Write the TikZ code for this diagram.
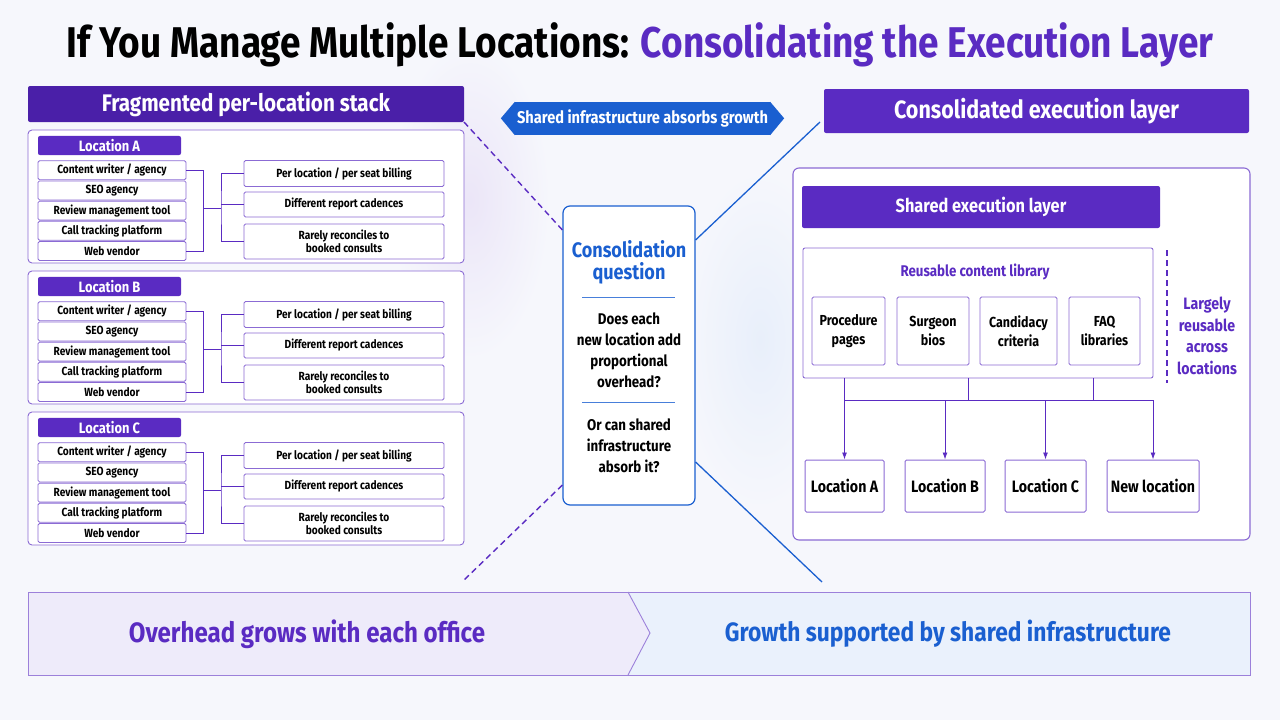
\documentclass[tikz,border=0pt]{standalone}
\usepackage{fontspec}
\setmainfont{Fira Sans}[FakeStretch=0.86]
\usetikzlibrary{arrows.meta}
\definecolor{pur}{HTML}{5A2BC2}
\definecolor{dpur}{HTML}{4A1FA8}
\definecolor{blu}{HTML}{1A5FD0}
\definecolor{bg}{HTML}{F6F7FC}
\definecolor{lav}{HTML}{EEEBFA}
\definecolor{lblu}{HTML}{EAF1FC}
\begin{document}
\begin{tikzpicture}[x=1pt,y=-1pt,
  hdr/.style={draw=none,fill=pur,rounded corners=2pt,text=white,font=\bfseries},
  item/.style={draw=pur!70,fill=white,rounded corners=1.5pt,line width=0.8pt},
  itxt/.style={font=\fontsize{11.8}{13}\selectfont\bfseries,align=center,text=black},
  grp/.style={draw=pur!70,fill=white,rounded corners=4pt,line width=0.9pt},
  con/.style={draw=pur,line width=0.8pt},
  dsh/.style={draw=pur,line width=1.4pt,dash pattern=on 6pt off 4pt},
  arr/.style={draw=pur,line width=0.9pt,-{Latex[length=7pt,width=5pt]}}]
\useasboundingbox (0,0) rectangle (1280,720);
\fill[bg] (0,0) rectangle (1280,720);
\shade[inner color=pur!12,outer color=bg] (470,200) ellipse (80 and 160);
\shade[inner color=blu!10,outer color=bg] (760,340) ellipse (80 and 170);
\node[font=\fontsize{43}{48}\selectfont\bfseries] (title) at (640,45) {If You Manage Multiple Locations: \textcolor{pur}{Consolidating the Execution Layer}};
% left header
\node[hdr,fill=dpur,minimum width=436pt,minimum height=36pt,font=\fontsize{24}{26}\selectfont\bfseries] (lh) at (246,104) {Fragmented per-location stack};
\foreach \L/\dy in {A/0,B/141,C/282}{
 \begin{scope}[yshift=-\dy pt]
 \node[grp,minimum width=436pt,minimum height=133pt] (g\L) at (246,196.5) {};
 \node[hdr,minimum width=143pt,minimum height=19pt,font=\fontsize{15}{16}\selectfont\bfseries] (l\L) at (109.5,145.5) {Location \L};
 \foreach \t [count=\i] in {Content writer / agency,SEO agency,Review management tool,Call tracking platform,Web vendor}{
   \node[item,minimum width=148pt,minimum height=19pt,itxt] (i\L\i) at (112,150+\i*20.2) {\t};}
 \node[item,minimum width=200pt,minimum height=26pt,itxt] (r\L1) at (344,173.5) {Per location / per seat billing};
 \node[item,minimum width=200pt,minimum height=25pt,itxt] (r\L2) at (344,204.5) {Different report cadences};
 \node[item,minimum width=200pt,minimum height=35pt,itxt] (r\L3) at (344,241.5) {Rarely reconciles to\\booked consults};
 \draw[con] (i\L1.east) -- ++(17,0) |- (i\L5.east);
 \draw[con] (203,208) -- (221,208);
 \draw[con] (r\L1.west) -| (221,208) |- (r\L3.west);
 \draw[con] (221,204.5) -- (r\L2.west);
 \end{scope}}
% banner
\node[fill=blu,text=white,font=\fontsize{17}{20}\selectfont\bfseries,inner xsep=2pt,minimum height=33pt] (ban) at (642.5,118.5) {Shared infrastructure absorbs growth};
\fill[blu] (ban.north west) -- ++(-14,16.5) -- (ban.south west) -- cycle;
\fill[blu] (ban.north east) -- ++(14,16.5) -- (ban.south east) -- cycle;
% right header
\node[hdr,minimum width=425pt,minimum height=44pt,font=\fontsize{25}{28}\selectfont\bfseries] (rh) at (1036.5,111) {Consolidated execution layer};
% center box
\node[draw=blu,line width=1.2pt,fill=white,rounded corners=7pt,minimum width=132pt,minimum height=299pt] (cq) at (629,355.5) {};
\node[text=blu,font=\fontsize{21}{22}\selectfont\bfseries,align=center] (cqt) at (629,262) {Consolidation\\question};
\draw[blu!80,line width=0.8pt] (582,297) -- (675,297);
\node[font=\fontsize{15.5}{21}\selectfont\bfseries,align=center] (q1) at (629,350) {Does each\\new location add\\proportional\\overhead?};
\draw[blu!80,line width=0.8pt] (582,402) -- (675,402);
\node[font=\fontsize{15.5}{21}\selectfont\bfseries,align=center] (q2) at (629,446) {Or can shared\\infrastructure\\absorb it?};
\coordinate (d1) at (464,122); \coordinate (d2) at (464,580);
\coordinate (s1) at (820,122); \coordinate (s2) at (822,582);
\draw[dsh] (d1) -- (cq.north west |- 0,230);
\draw[dsh] (cq.south west |- 0,485) -- (d2);
\draw[blu,line width=1.3pt] (cq.north east |- 0,240) -- (s1);
\draw[blu,line width=1.3pt] (cq.south east |- 0,462) -- (s2);
% right panel
\node[grp,line width=1.1pt,rounded corners=6pt,minimum width=457pt,minimum height=372pt] (rp) at (1021.5,354) {};
\node[hdr,minimum width=358pt,minimum height=42pt,font=\fontsize{19}{21}\selectfont\bfseries] (sel) at (981,207) {Shared execution layer};
\node[grp,rounded corners=2pt,minimum width=350pt,minimum height=130pt] (lib) at (978,313) {};
\node[text=pur,font=\fontsize{15.5}{18}\selectfont\bfseries] (libt) at (975,272) {Reusable content library};
\foreach \t/\x/\w [count=\i] in {{Procedure\\pages}/848.5/73,{Surgeon\\bios}/933/72,{Candidacy\\criteria}/1018.5/77,{FAQ\\libraries}/1104.5/71}{
 \node[item,minimum width=\w pt,minimum height=68pt,font=\fontsize{14.5}{19}\selectfont\bfseries,align=center] (c\i) at (\x,331) {\t};}
\node[text=pur,font=\fontsize{16.5}{21.5}\selectfont\bfseries,align=center] (lr) at (1207,336) {Largely\\reusable\\across\\locations};
\draw[pur,line width=1.2pt,dash pattern=on 6pt off 4pt] (1167,250) -- (1167,383);
\foreach \t/\x/\w [count=\i] in {Location A/844.5/79,Location B/945/80,Location C/1045.5/81,New location/1153/92}{
 \node[item,line width=1pt,minimum width=\w pt,minimum height=52pt,font=\fontsize{16.5}{19}\selectfont\bfseries] (n\i) at (\x,486) {\t};}
\coordinate (bus) at (0,400);
\draw[con,line width=1pt] (n1.north |- lib.south) -- (n1.north |- bus);
\draw[con,line width=1pt] (968,378) -- (968,400);
\draw[con,line width=1pt] (1093,378) -- (1093,400);
\draw[con,line width=1pt] (n1.north |- bus) -- (n4.north |- bus);
\foreach \i in {1,2,3,4}{\draw[arr] (n\i.north |- bus) -- (n\i.north);}
% bottom
\fill[lav] (28,592) -- (628,592) -- (650,633) -- (628,675) -- (28,675) -- cycle;
\fill[lblu] (628,592) -- (1250,592) -- (1250,675) -- (628,675) -- (650,633) -- cycle;
\draw[pur!60,line width=0.9pt] (28,592) rectangle (1250,675);
\draw[pur!60,line width=0.9pt] (628,592) -- (650,633) -- (628,675);
\node[text=pur,font=\fontsize{28}{30}\selectfont\bfseries] (bl) at (307,634) {Overhead grows with each office};
\node[text=blu,font=\fontsize{26.5}{30}\selectfont\bfseries] (br) at (948,634) {Growth supported by shared infrastructure};
\end{tikzpicture}
\end{document}
